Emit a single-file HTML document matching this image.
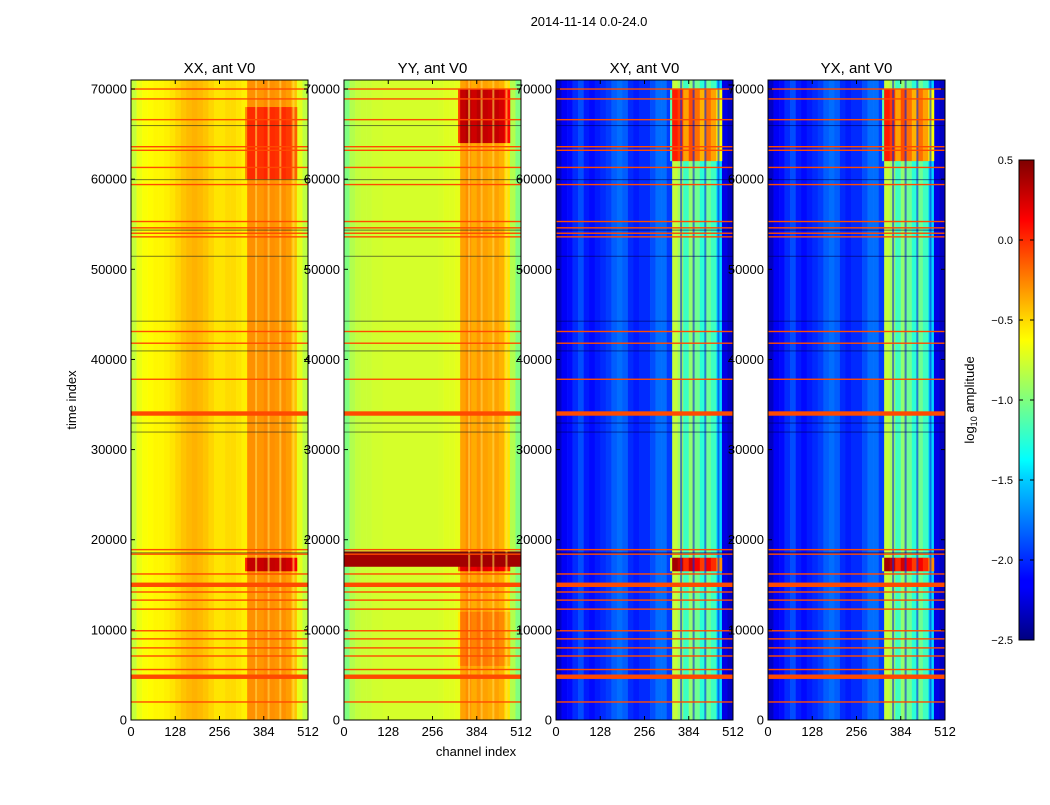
<!DOCTYPE html>
<html><head><meta charset="utf-8"><style>
body{margin:0;background:#fff;font-family:"Liberation Sans",sans-serif}
svg text{font-family:"Liberation Sans",sans-serif;fill:#000}
</style></head><body>
<svg id="fig" width="1050" height="800" viewBox="0 0 1050 800" xmlns="http://www.w3.org/2000/svg">
<rect width="1050" height="800" fill="#fff"/>
<text x="589" y="26" font-size="13" text-anchor="middle">2014-11-14 0.0-24.0</text>
<text transform="translate(76,400) rotate(-90)" font-size="13" text-anchor="middle">time index</text>
<text x="476" y="756" font-size="13" text-anchor="middle">channel index</text>
<g id="panels"></g>
<defs><linearGradient id="jetg" x1="0" y1="1" x2="0" y2="0">
<stop offset="0" stop-color="#00007f"/><stop offset="0.11" stop-color="#0000ff"/><stop offset="0.125" stop-color="#0000ff"/><stop offset="0.34" stop-color="#00d4ff"/><stop offset="0.375" stop-color="#0ff"/><stop offset="0.5" stop-color="#7fff7f"/><stop offset="0.625" stop-color="#ff0"/><stop offset="0.66" stop-color="#ffe000"/><stop offset="0.875" stop-color="#f00"/><stop offset="1" stop-color="#7f0000"/>
</linearGradient></defs>
<rect x="1019" y="160" width="15" height="480" fill="url(#jetg)" stroke="#000" stroke-width="1"/>
<g id="cbticks"></g>
<text transform="translate(974,400) rotate(-90)" font-size="13" text-anchor="middle">log<tspan font-size="9" dy="3">10</tspan><tspan dy="-3"> amplitude</tspan></text>
</svg>
<script>
const NS="http://www.w3.org/2000/svg";
const titles=["XX, ant V0","YY, ant V0","XY, ant V0","YX, ant V0"];
const bandXX=[-0.8,-0.68,-0.64,-0.62,-0.6,-0.6,-0.58,-0.55,-0.5,-0.45,-0.42,-0.4,-0.42,-0.45,-0.5,-0.55,-0.55,-0.52,-0.52,-0.55,-0.58,-0.3,-0.3,-0.32,-0.28,-0.3,-0.32,-0.3,-0.34,-0.45,-0.7,-0.82];
const bandYY=[-1.0,-0.85,-0.8,-0.78,-0.78,-0.76,-0.76,-0.75,-0.75,-0.75,-0.75,-0.75,-0.75,-0.75,-0.75,-0.75,-0.75,-0.74,-0.72,-0.72,-0.7,-0.35,-0.3,-0.38,-0.32,-0.35,-0.38,-0.35,-0.4,-0.55,-0.85,-1.0];
const bandXY=[-2.3,-2.15,-2.1,-2.0,-1.9,-2.05,-2.1,-2.05,-2.0,-1.95,-1.85,-1.8,-1.85,-2.0,-2.05,-2.0,-2.0,-1.9,-1.8,-1.8,-1.95,-0.8,-0.9,-1.2,-0.95,-1.05,-1.25,-1.05,-1.2,-1.5,-2.2,-2.3];
const bandYX=bandXY.slice();
const strongRange=[330,480];
const boostXX=[[16500,18000,0.6],[60000,68000,0.3]];
const boostYY=[[64000,70000,0.65],[16500,18000,0.55],[6000,12000,0.12]];
const boostXY=[[62000,70000,0.85],[16500,18000,1.2]];
const boostYX=[[62000,70000,0.85],[16500,18000,1.2]];
const wideYY=[[17000,18700,0.45]];
const gapChannels=[362,398,432,470];
const flagTimes=[70000,68900,66600,63600,63200,61300,59400,55300,54600,54000,53600,43100,41800,37800,18900,18400,16200,14200,13300,12300,9900,9000,8000,7100,5600,2000];
const thickFlags=[34000,15000,4800];
const gapTimes=[66000,60000,54400,51500,44300,41000,33000,32000,18600];
const yTicks=[0,10000,20000,30000,40000,50000,60000,70000];
const xTicks=[0,128,256,384,512];
const cbTicks=[0.5,0.0,-0.5,-1.0,-1.5,-2.0,-2.5];
const bands=[bandXX,bandYY,bandXY,bandYX];
const boosts=[boostXX,boostYY,boostXY,boostYX];
const wides=[[],wideYY,[],[]];
const panelX=[131,344,556,768],PW=177,PT=80,PH=640,TMAX=71000,CMAX=512;
function jet(x){let v=Math.max(0,Math.min(1,(x+2.5)/3));
 const f=(a)=>Math.max(0,Math.min(1,a));
 const r=f(Math.min(4*v-1.5,-4*v+4.5)),g=f(Math.min(4*v-0.5,-4*v+3.5)),b=f(Math.min(4*v+0.5,-4*v+2.5));
 return `rgb(${Math.round(r*255)},${Math.round(g*255)},${Math.round(b*255)})`;}
const root=document.getElementById('panels');
function el(tag,attrs,parent){const e=document.createElementNS(NS,tag);for(const k in attrs)e.setAttribute(k,attrs[k]);parent.appendChild(e);return e;}
panelX.forEach((px,p)=>{
 const sx=c=>px+c/CMAX*PW, sy=t=>PT+PH-t/TMAX*PH;
 const g=el('g',{},root);
 
 
 const bw=CMAX/bands[p].length;
 bands[p].forEach((v,i)=>{
  const r=el('rect',{x:sx(i*bw),y:PT,width:sx((i+1)*bw)-sx(i*bw)+0.3,height:PH,fill:jet(v)},g);
  
  
 });
 boosts[p].forEach(b=>{
  bands[p].forEach((v,i)=>{
   const c0=Math.max(i*bw,strongRange[0]), c1=Math.min((i+1)*bw,strongRange[1]);
   if(c1<=c0)return;
   const r=el('rect',{x:sx(c0),y:sy(b[1]),width:sx(c1)-sx(c0)+0.3,height:sy(b[0])-sy(b[1]),fill:jet(v+b[2])},g);
   
   
  });
 });
 wides[p].forEach(w=>{
  const r=el('rect',{x:px,y:sy(w[1]),width:PW,height:sy(w[0])-sy(w[1]),fill:jet(0.4)},g);
  
  
 });
 gapChannels.forEach(c=>{
  const r=el('rect',{x:sx(c)-1,y:PT,width:2,height:PH,fill:p<2?'#ffd84a':'#0a28e0',opacity:0.6},g);
  
  
 });
 gapTimes.forEach(t=>{
  const r=el('rect',{x:px,y:sy(t),width:PW,height:1,fill:p<2?'#222':'#00005a',opacity:0.6},g);
  
  
 });
 flagTimes.forEach(t=>{
  const r=el('rect',{x:px,y:sy(t)-0.7,width:PW,height:1.4,fill:'#ff4a00'},g);
  
  
 });
 thickFlags.forEach(t=>{
  const r=el('rect',{x:px,y:sy(t)-2.2,width:PW,height:4.4,fill:'#ff4a00'},g);
  
  
 });
 const fr=el('rect',{x:px,y:PT,width:PW,height:PH,fill:'none',stroke:'#000','stroke-width':1},g);
 
 
 const tt=el('text',{x:px+PW/2,y:PT-7,'font-size':15,'text-anchor':'middle'},g);
 tt.textContent=titles[p];
 
 
 yTicks.forEach(t=>{
  el('line',{x1:px,x2:px+4,y1:sy(t),y2:sy(t),stroke:'#000'},g);
  el('line',{x1:px+PW-4,x2:px+PW,y1:sy(t),y2:sy(t),stroke:'#000'},g);
  const l=el('text',{x:px-4,y:sy(t)+4.5,'font-size':13,'text-anchor':'end'},g);
  l.textContent=t;
  
  
 });
 xTicks.forEach(c=>{
  el('line',{x1:sx(c),x2:sx(c),y1:PT+PH,y2:PT+PH-4,stroke:'#000'},g);
  el('line',{x1:sx(c),x2:sx(c),y1:PT,y2:PT+4,stroke:'#000'},g);
  const l=el('text',{x:sx(c),y:PT+PH+16,'font-size':13,'text-anchor':'middle'},g);
  l.textContent=c;
  
  
 });
});
const cb=document.getElementById('cbticks');
cbTicks.forEach(v=>{
 const y=160+(0.5-v)/3*480;
 el('line',{x1:1019,x2:1023,y1:y,y2:y,stroke:'#000'},cb);
 el('line',{x1:1030,x2:1034,y1:y,y2:y,stroke:'#000'},cb);
 const l=el('text',{x:1013,y:y+4,'font-size':11,'text-anchor':'end'},cb);
 l.textContent=v.toFixed(1).replace('-','\u2212');
 
 
});
</script>
</body></html>
